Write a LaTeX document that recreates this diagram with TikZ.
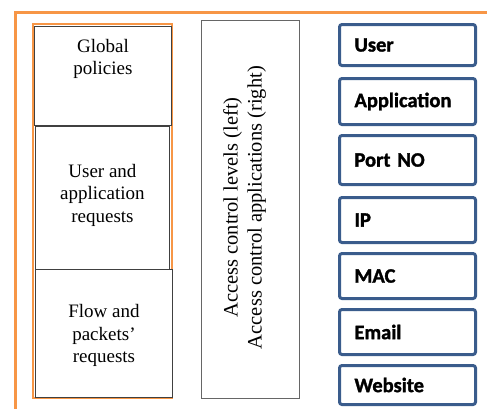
\documentclass[tikz,border=0pt]{standalone}
\usepackage{fontspec}
\setmainfont{Liberation Serif}
\newfontfamily\boxfont{Carlito}[BoldFeatures={FakeBold=1.5}]
\definecolor{frameorange}{HTML}{F79646}
\definecolor{boxblue}{HTML}{3A5C8C}
\definecolor{boxgray}{HTML}{404040}
\begin{document}
\begin{tikzpicture}[x=1pt,y=-1pt,
  frame/.style={draw=frameorange, line width=3pt},
  colframe/.style={draw=frameorange, line width=2pt},
  leftbox/.style={draw=boxgray, line width=0.9pt, fill=white, anchor=north west, inner sep=0pt},
  lefttext/.style={align=center, inner sep=0pt, font=\fontsize{19}{22.5}\selectfont},
  midtext/.style={align=center, inner sep=0pt, font=\fontsize{20.5}{24}\selectfont},
  midbox/.style={draw=boxgray!80, line width=1.2pt, fill=white, anchor=north west, inner sep=0pt},
  idbox/.style={draw=boxblue, line width=3pt, rounded corners=2.5pt, anchor=north west,
    minimum width=136pt, inner xsep=15pt, inner ysep=0pt, text width=106pt, align=left,
    font=\boxfont\bfseries\fontsize{20.5}{22}\selectfont}]
\useasboundingbox (0,0) rectangle (487,408);
\begin{scope}
\clip (0,0) rectangle (487,408);
\draw[frame] (15,420) -- (15,12) -- (500,12);
\end{scope}
% left column
\draw[colframe] (33,24) rectangle (172,398);
\node[leftbox, minimum width=137pt, minimum height=99pt] (gp) at (34,26) {};
\node[lefttext, anchor=north] (gpt) at ([yshift=-13pt]gp.north) {Global\\policies};
\node[leftbox, minimum width=134pt, minimum height=143pt] (uar) at (35,126) {};
\node[lefttext] (uart) at ([yshift=3pt]uar.center) {User and\\application\\requests};
\node[leftbox, minimum width=137pt, minimum height=128pt] (fpr) at (35,269) {};
\node[lefttext] (fprt) at ([yshift=-2pt]fpr.center) {Flow and\\packets'\\requests};
% middle
\node[midbox, minimum width=98pt, minimum height=378pt] (acl) at (201,20) {};
\node[midtext, rotate=90] (aclt) at ([xshift=-6pt,yshift=2pt]acl.center) {Access control levels (left)\\Access control applications (right)};
% right column
\node[idbox, minimum height=41pt] (user) at (338,23) {User};
\node[idbox, minimum height=46pt] (app) at (338,77) {Application};
\node[idbox, minimum height=49pt] (port) at (338,134) {Port NO};
\node[idbox, minimum height=45pt] (ip) at (338,196) {IP};
\node[idbox, minimum height=45pt] (mac) at (338,252) {MAC};
\node[idbox, minimum height=45pt] (email) at (338,308) {Email};
\node[idbox, minimum height=39pt] (web) at (338,364) {Website};
\end{tikzpicture}
\end{document}
